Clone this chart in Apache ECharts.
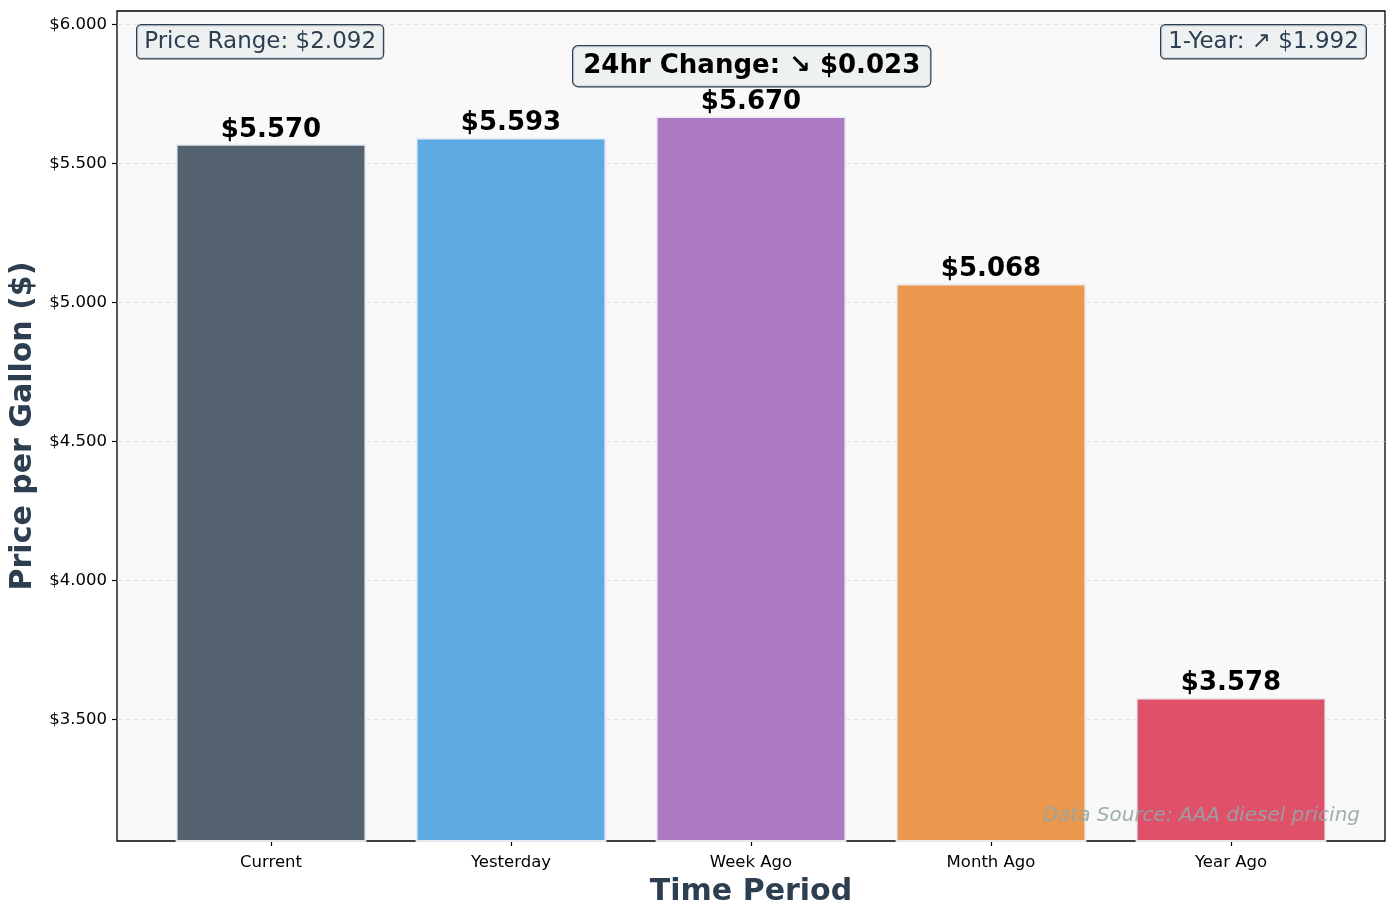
<!DOCTYPE html>
<html>
<head>
<meta charset="utf-8">
<script src="https://cdn.jsdelivr.net/npm/echarts@6/dist/echarts.min.js"></script>
<style>html,body{margin:0;padding:0;background:#fff;}#c{width:1397px;height:918px;}</style>
</head>
<body>
<div id="c"></div>
<script>
const categories = ['Current', 'Yesterday', 'Week Ago', 'Month Ago', 'Year Ago'];
const priceValues = [5.570, 5.593, 5.670, 5.068, 3.578];
const barColors = ['#556371', '#5dabe2', '#ac7ac2', '#ea984e', '#de5169'];
const yTicks = [3.5, 4.0, 4.5, 5.0, 5.5, 6.0];
const yMin = 3.062, yMax = 6.048;
const priceRangeText = 'Price Range: $2.092';
const changeText = '24hr Change: \u2198 $0.023';
const yearText = '1-Year: \u2197 $1.992';
const sourceText = 'Data Source: AAA diesel pricing';

const FONT = 'DejaVu Sans';
const chart = echarts.init(document.getElementById('c'), null, {renderer: 'canvas'});
const fmt = v => '$' + Number(v).toFixed(3);

chart.setOption({
  animation: false,
  backgroundColor: '#ffffff',
  grid: [
    {left: 117, right: 12, top: 11, bottom: 77, show: true, backgroundColor: '#f9f9f9', borderColor: '#000', borderWidth: 1.3, z: 0},
    {left: 151, right: 46, top: 11, bottom: 77}
  ],
  xAxis: [
    {gridIndex: 0, type: 'value', min: 0, max: 1, show: true,
     axisLine: {show: false}, axisTick: {show: false}, axisLabel: {show: false}, splitLine: {show: false},
     name: 'Time Period', nameLocation: 'middle', nameGap: 36,
     nameTextStyle: {fontFamily: FONT, fontSize: 30, fontWeight: 'bold', color: '#2c3e50'}},
    {gridIndex: 1, type: 'category', data: categories,
     axisLine: {show: false},
     axisTick: {show: true, alignWithLabel: true, length: 5, lineStyle: {color: '#000', width: 1.2}},
     axisLabel: {fontFamily: FONT, fontSize: 16.5, color: '#000', margin: 13},
     splitLine: {show: false}}
  ],
  yAxis: [
    {gridIndex: 0, type: 'value', min: yMin, max: yMax,
     axisLine: {show: false},
     axisTick: {show: true, length: 5, customValues: yTicks, lineStyle: {color: '#000', width: 1.2}},
     axisLabel: {fontFamily: FONT, fontSize: 16.5, color: '#000', margin: 10, customValues: yTicks, formatter: fmt},
     splitLine: {show: true, lineStyle: {color: '#dcdcdc', type: [5, 3], width: 1, opacity: 0.7}},
     name: 'Price per Gallon ($)', nameLocation: 'middle', nameGap: 76, nameRotate: 90,
     nameTextStyle: {fontFamily: FONT, fontSize: 30, fontWeight: 'bold', color: '#2c3e50'}},
    {gridIndex: 1, type: 'value', min: yMin, max: yMax, show: false, splitLine: {show: false}}
  ],
  series: [{
    type: 'bar', xAxisIndex: 1, yAxisIndex: 1,
    barWidth: '79.5%',
    data: priceValues.map((v, i) => ({value: v, itemStyle: {color: barColors[i]}})),
    itemStyle: {borderColor: 'rgba(236,239,243,0.95)', borderWidth: 2},
    label: {show: true, position: 'top', distance: 1, formatter: p => fmt(p.value),
            fontFamily: FONT, fontSize: 26, fontWeight: 'bold', color: '#000'},
    z: 3
  }],
  graphic: [
    {type: 'text', left: 136, top: 24, z: 10,
     style: {text: priceRangeText, font: '23px "DejaVu Sans"', fill: '#2c3e50',
             backgroundColor: 'rgba(236,240,241,0.85)', borderColor: '#2c3e50', borderWidth: 1.2,
             borderRadius: 4, padding: [5, 7, 5, 7], lineHeight: 23}},
    {type: 'text', right: 30, top: 24, z: 10,
     style: {text: yearText, font: '23px "DejaVu Sans"', fill: '#2c3e50',
             backgroundColor: 'rgba(236,240,241,0.85)', borderColor: '#2c3e50', borderWidth: 1.2,
             borderRadius: 4, padding: [5, 7, 5, 7], lineHeight: 23}},
    {type: 'text', left: 572, top: 45, z: 10,
     style: {text: changeText, font: 'bold 26px "DejaVu Sans"', fill: '#000',
             backgroundColor: 'rgba(236,240,241,0.9)', borderColor: '#2c3e50', borderWidth: 1.2,
             borderRadius: 5, padding: [7, 10, 7, 10], lineHeight: 26}},
    {type: 'text', right: 37, top: 806, z: 10,
     style: {text: sourceText, font: 'italic 20px "DejaVu Sans"', fill: 'rgba(149,165,166,0.9)'}}
  ]
});
</script>
</body>
</html>
